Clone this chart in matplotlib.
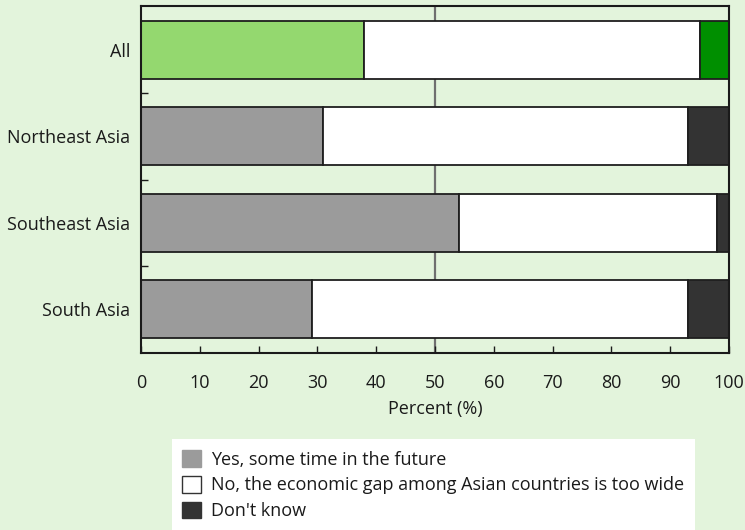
import matplotlib
matplotlib.use("Agg")
import matplotlib.pyplot as plt
from matplotlib.patches import Patch, Rectangle

plt.rcParams['font.family'] = ['Open Sans', 'DejaVu Sans']

# Survey shares (%) by region
regions = ["All", "Northeast Asia", "Southeast Asia", "South Asia"]
yes_future = [38, 31, 54, 29]
no_gap_too_wide = [57, 62, 44, 64]
dont_know = [5, 7, 2, 7]

legend_labels = ["Yes, some time in the future",
                 "No, the economic gap among Asian countries is too wide",
                 "Don't know"]
x_ticks = list(range(0, 101, 10))

BG = "#e3f4dc"
GRAY = "#9b9b9b"
DARK = "#333333"
EDGE = "#1e1e1e"
TXT = "#1a1a1a"
FS = 13
# the "All" row is highlighted in greens
yes_colors = ["#94d86f", GRAY, GRAY, GRAY]
dk_colors = ["#008f00", DARK, DARK, DARK]

W, H = 745, 530
fig = plt.figure(figsize=(W / 100, H / 100), dpi=100, facecolor=BG)
ax = fig.add_axes([141 / W, (H - 353) / H, (729 - 141) / W, (353 - 6) / H])
ax.set_facecolor(BG)

ypos = list(range(len(regions)))
bar_h = 0.67
lw = 1.3
ax.barh(ypos, yes_future, height=bar_h, color=yes_colors,
        edgecolor=EDGE, linewidth=lw, zorder=3)
ax.barh(ypos, no_gap_too_wide, left=yes_future, height=bar_h, color="white",
        edgecolor=EDGE, linewidth=lw, zorder=3)
left2 = [a + b for a, b in zip(yes_future, no_gap_too_wide)]
ax.barh(ypos, dont_know, left=left2, height=bar_h, color=dk_colors,
        edgecolor=EDGE, linewidth=lw, zorder=3)

ax.axvline(50, color="#6f6f6f", linewidth=1.6, zorder=1)

ax.set_xlim(0, 100)
ax.set_ylim(3.51, -0.51)
ax.set_xticks(x_ticks)
ax.set_yticks(ypos)
ax.set_yticklabels(regions)
ax.set_yticks([0.5, 1.5, 2.5], minor=True)

ax.tick_params(axis="x", direction="in", length=5, width=1, color=TXT,
               labelsize=FS, labelcolor=TXT, pad=15)
ax.tick_params(axis="y", which="major", length=0, labelsize=FS,
               labelcolor=TXT, pad=8)
ax.tick_params(axis="y", which="minor", direction="in", length=5, width=1,
               color=TXT)
for s in ax.spines.values():
    s.set_linewidth(1.5)
    s.set_color(TXT)
    s.set_zorder(4)

ax.set_xlabel("Percent (%)", fontsize=FS, color=TXT, labelpad=6)

# white panel behind the legend
fig.patches.append(Rectangle((172 / W, 0), (695 - 172) / W, (H - 439) / H,
                             transform=fig.transFigure, facecolor="white",
                             edgecolor="none", zorder=0))
handles = [Patch(facecolor=GRAY, edgecolor=GRAY),
           Patch(facecolor="white", edgecolor=DARK, linewidth=1),
           Patch(facecolor=DARK, edgecolor=DARK)]
leg = fig.legend(handles, legend_labels, loc="upper left",
                 bbox_to_anchor=(182 / W, (H - 450) / H), frameon=False,
                 fontsize=FS, handlelength=1.05, handleheight=1.05,
                 handletextpad=0.55, labelspacing=0.4, borderpad=0,
                 borderaxespad=0)
for t in leg.get_texts():
    t.set_color(TXT)

fig.savefig("out.png", dpi=100, facecolor=BG)
